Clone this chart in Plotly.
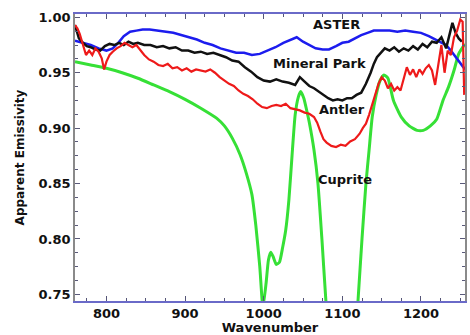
import plotly.graph_objects as go

# ---- spectra (wavenumber, apparent emissivity) ----
cuprite_x = [760, 780, 800, 820, 840, 860, 880, 900, 920, 940, 950, 960, 970, 978, 985,
             990, 995, 999, 1003, 1006, 1009, 1012, 1016, 1020, 1024, 1028, 1032, 1036,
             1040, 1044, 1047, 1051, 1055, 1058, 1064, 1069, 1074, 1079, 1084, 1100,
             1116, 1120, 1125, 1130, 1134, 1138, 1143, 1148, 1153, 1158, 1165, 1175,
             1185, 1195, 1203, 1212, 1220, 1228, 1235, 1242, 1248, 1256]
cuprite_y = [0.960, 0.957, 0.954, 0.950, 0.945, 0.939, 0.933, 0.926, 0.918, 0.909, 0.902,
             0.891, 0.876, 0.859, 0.840, 0.812, 0.775, 0.738, 0.760, 0.781, 0.788, 0.784,
             0.777, 0.779, 0.792, 0.808, 0.835, 0.875, 0.912, 0.928, 0.933, 0.927, 0.915,
             0.905, 0.880, 0.850, 0.800, 0.745, 0.700, 0.640, 0.700, 0.745, 0.800, 0.850,
             0.880, 0.910, 0.930, 0.943, 0.948, 0.945, 0.925, 0.910, 0.902, 0.898, 0.898,
             0.902, 0.908, 0.925, 0.937, 0.952, 0.967, 0.976]

aster_x = [760, 770, 780, 790, 800, 808, 815, 822, 830, 838, 846, 855, 865, 875, 885,
           895, 905, 915, 925, 935, 945, 955, 965, 975, 985, 995, 1005, 1015, 1025, 1035,
           1042, 1050, 1058, 1066, 1075, 1083, 1092, 1100, 1108, 1116, 1124, 1132, 1140,
           1150, 1160, 1170, 1180, 1190, 1200, 1210, 1218, 1225, 1232, 1238, 1244, 1250,
           1256]
aster_y = [0.979, 0.977, 0.975, 0.972, 0.970, 0.972, 0.977, 0.983, 0.987, 0.988, 0.989,
           0.989, 0.988, 0.987, 0.986, 0.984, 0.982, 0.980, 0.977, 0.975, 0.972, 0.970,
           0.968, 0.968, 0.966, 0.967, 0.970, 0.973, 0.977, 0.980, 0.982, 0.978, 0.975,
           0.972, 0.971, 0.971, 0.974, 0.977, 0.978, 0.981, 0.984, 0.986, 0.988, 0.988,
           0.988, 0.987, 0.988, 0.987, 0.986, 0.983, 0.980, 0.978, 0.975, 0.970, 0.964,
           0.958, 0.953]

mineral_x = [760, 762, 765, 770, 775, 780, 786, 792, 798, 804, 810, 816, 822, 828, 834,
             840, 848, 856, 864, 872, 880, 888, 896, 904, 912, 920, 928, 936, 944, 952,
             960, 968, 976, 984, 992, 1000, 1008, 1016, 1024, 1032, 1040, 1046, 1052,
             1058, 1064, 1070, 1076, 1082, 1088, 1094, 1100, 1106, 1112, 1118, 1124,
             1130, 1136, 1140, 1144, 1148, 1154, 1160, 1166, 1172, 1178, 1184, 1190,
             1196, 1202, 1208, 1214, 1220, 1226, 1232, 1236, 1240, 1244, 1248, 1252]
mineral_y = [0.993, 0.988, 0.981, 0.977, 0.974, 0.973, 0.971, 0.970, 0.974, 0.976, 0.975,
             0.977, 0.975, 0.978, 0.976, 0.977, 0.975, 0.975, 0.973, 0.974, 0.972, 0.973,
             0.970, 0.970, 0.968, 0.969, 0.967, 0.968, 0.966, 0.964, 0.961, 0.960, 0.955,
             0.951, 0.946, 0.943, 0.942, 0.944, 0.942, 0.941, 0.939, 0.946, 0.942, 0.938,
             0.936, 0.933, 0.930, 0.927, 0.925, 0.926, 0.925, 0.927, 0.927, 0.930, 0.932,
             0.940, 0.950, 0.958, 0.964, 0.967, 0.972, 0.970, 0.973, 0.969, 0.972, 0.970,
             0.974, 0.971, 0.976, 0.973, 0.978, 0.977, 0.982, 0.972, 0.985, 0.995, 0.986,
             0.981, 0.978]

antler_x = [760, 763, 766, 770, 774, 778, 782, 786, 790, 794, 797, 800, 804, 808, 813,
            818, 823, 828, 833, 838, 843, 848, 854, 860, 866, 872, 878, 884, 890, 896,
            902, 908, 914, 920, 926, 932, 938, 944, 950, 956, 962, 968, 974, 980, 986,
            992, 998, 1004, 1010, 1016, 1022, 1028, 1034, 1040, 1046, 1052, 1058, 1064,
            1068, 1072, 1076, 1080, 1086, 1092, 1098, 1104, 1110, 1116, 1122, 1126, 1130,
            1134, 1138, 1142, 1146, 1150, 1154, 1158, 1162, 1166, 1170, 1174, 1178, 1182,
            1186, 1190, 1194, 1198, 1202, 1206, 1210, 1214, 1218, 1222, 1226, 1230, 1234,
            1238, 1242, 1246, 1250, 1253, 1255]
antler_y = [0.993, 0.990, 0.985, 0.976, 0.966, 0.970, 0.966, 0.972, 0.969, 0.963, 0.953,
            0.960, 0.966, 0.969, 0.972, 0.974, 0.977, 0.975, 0.973, 0.975, 0.970, 0.966,
            0.962, 0.960, 0.957, 0.956, 0.958, 0.954, 0.955, 0.952, 0.954, 0.951, 0.953,
            0.952, 0.951, 0.953, 0.950, 0.946, 0.943, 0.940, 0.938, 0.934, 0.931, 0.929,
            0.926, 0.922, 0.919, 0.918, 0.920, 0.921, 0.920, 0.922, 0.918, 0.917, 0.916,
            0.914, 0.913, 0.910, 0.905, 0.897, 0.890, 0.887, 0.884, 0.883, 0.885, 0.884,
            0.888, 0.890, 0.895, 0.900, 0.904, 0.912, 0.922, 0.932, 0.940, 0.946, 0.943,
            0.936, 0.940, 0.934, 0.937, 0.934, 0.944, 0.955, 0.948, 0.953, 0.946, 0.953,
            0.949, 0.954, 0.957, 0.952, 0.939, 0.958, 0.975, 0.950, 0.970, 0.966, 0.982,
            0.988, 0.998, 0.996, 0.930]

labels = ["ASTER", "Mineral Park", "Antler", "Cuprite"]
label_x = [1092, 1071, 1100, 1104]
label_y = [0.9937, 0.9586, 0.9164, 0.8534]

FONT = "DejaVu Sans"
INK = "#111111"

fig = go.Figure()
series = [
    (cuprite_x, cuprite_y, "#36e036", 3.0, "spline"),
    (aster_x, aster_y, "#1c1cee", 2.5, "linear"),
    (mineral_x, mineral_y, INK, 2.5, "linear"),
    (antler_x, antler_y, "#ee1a1a", 2.2, "linear"),
]
for xs, ys, color, w, shape in series:
    line = dict(color=color, width=w, shape=shape)
    if shape == "spline":
        line["smoothing"] = 0.5
    fig.add_trace(go.Scatter(x=xs, y=ys, mode="lines", line=line,
                             showlegend=False, hoverinfo="skip"))

for txt, lx, ly in zip(labels, label_x, label_y):
    fig.add_annotation(x=lx, y=ly, text=txt, showarrow=False,
                       font=dict(family=FONT, size=13, color=INK, weight="bold"),
                       xanchor="center", yanchor="middle")

axis_common = dict(
    showgrid=False, zeroline=False, mirror="ticks", showline=True,
    ticks="inside", ticklen=5, tickwidth=1,
    tickfont=dict(family=FONT, size=13, color=INK, weight="bold"),
)

fig.update_xaxes(
    range=[760, 1256], tickvals=[800, 900, 1000, 1100, 1200],
    linecolor="#6a6ac8", tickcolor="#555577", linewidth=1.5,
    minor=dict(ticks="inside", ticklen=3, dtick=25, tick0=0, tickcolor="#555577"),
    title=dict(text="Wavenumber",
               font=dict(family=FONT, size=13, color=INK, weight="bold"),
               standoff=2),
    **axis_common,
)
fig.update_yaxes(
    range=[0.744, 1.003], tickvals=[0.75, 0.80, 0.85, 0.90, 0.95, 1.00],
    ticktext=["0.75", "0.80", "0.85", "0.90", "0.95", "1.00"],
    linecolor="#8a8a8a", tickcolor="#5a5a7a", linewidth=1.5,
    minor=dict(ticks="inside", ticklen=3, dtick=0.0125, tick0=0.75, tickcolor="#5a5a7a"),
    title=dict(text="Apparent Emissivity",
               font=dict(family=FONT, size=12, color=INK, weight="bold"),
               standoff=11),
    **axis_common,
)

fig.update_layout(
    width=470, height=335,
    margin=dict(l=75, r=3, t=14, b=33),
    paper_bgcolor="white", plot_bgcolor="white",
)

fig.write_html("out.html")
